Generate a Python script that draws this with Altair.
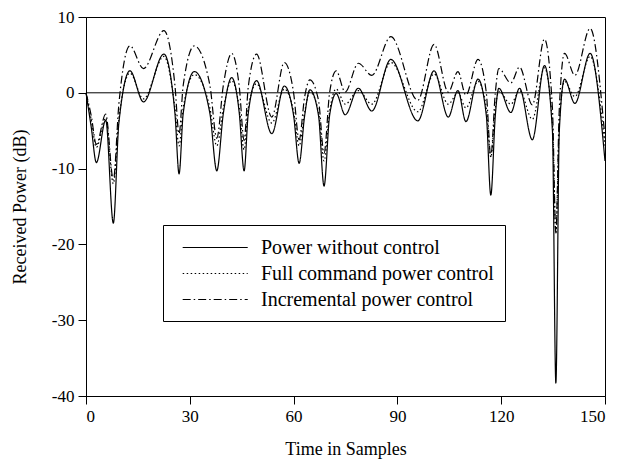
import altair as alt
import pandas as pd

# Sample positions (time in samples) of the key points
x_samples = [0, 1.5, 3, 5.7, 7.9, 9.5, 12.7, 16.6, 22.5, 25.7, 26.9, 28.1, 31.3,
             35.8, 37.8, 39.7, 42.1, 44.3, 45.7, 46.9, 49.3, 53.7, 57.3, 60.0,
             61.6, 63.2, 64.7, 67.2, 68.8, 70.4, 72.3, 74.9, 78.7, 82.6, 88.1,
             95.9, 100.6, 104.7, 107.5, 109.8, 113.3, 115.7, 117, 118.3, 119.3,
             122.8, 125.3, 129, 132.5, 134.8, 135.8, 136.8, 138.3, 141.3, 145.7, 150]

# Received power (dB)
no_control = [0, -4.5, -9.2, -3.6, -17.2, -4, 2.9, -1.2, 5.1, -2.7, -10.7, -2.7, 2.8,
              -2.7, -10.3, -2.7, 2.0, -2.7, -10.3, -2.7, 1.6, -5.4, 0.9, -3,
              -9.3, -3, 0.4, -3, -12.3, -3, -0.1, -2.9, 0.6, -2.4, 4.4,
              -3.7, 2.9, -3.2, 0.3, -3.8, 1.8, -3, -13.5, -3, 0.6,
              -2.6, 0.6, -6.2, 3.6, -5, -38.3, -5, 1.8, -1.4, 5.2, -9]

full_command = [0, -3.5, -7.2, -3.3, -12, -3.5, 2.6, -0.8, 4.8, -2, -7, -2, 2.4,
                -2, -7, -2, 1.6, -2, -7.5, -2, 1.2, -4, 0.5, -2.5,
                -7, -2.5, 0.1, -2.5, -9, -2.5, 0.5, -1.5, 0.3, -1.5, 4.0,
                -2.5, 2.5, -1.5, 0, -2, 1.5, -2, -8.5, -2, 0.2,
                -1.5, 0.3, -3.5, 3.3, -4, -18.5, -4, 1.5, -0.5, 4.8, -7]

incremental = [0, -3, -6.8, -2.8, -11.5, -1.5, 6.2, 3.2, 8.2, 1, -5.4, 1, 6.2,
               1, -6, 1, 5.2, 0.8, -6.3, 0.8, 5.1, -3.2, 4.0, 0,
               -6.2, -0.5, 1.7, -1, -8, 0, 2.9, 0.1, 3.9, 2.3, 7.4,
               -1.0, 6.4, 0.1, 2.8, -0.3, 4.4, 0, -8.4, 0, 3.2,
               1.3, 3.4, -1.6, 7.1, -2, -18.5, -2, 5.2, 2.3, 8.5, -6]

series_names = ["Power without control", "Full command power control",
                "Incremental power control"]

x_ticks = [0, 30, 60, 90, 120, 150]
y_ticks = [-40, -30, -20, -10, 0, 10]

rows = []
for name, vals in zip(series_names, [no_control, full_command, incremental]):
    for xv, yv in zip(x_samples, vals):
        rows.append({"t": xv, "p": yv, "series": name})
df = pd.DataFrame(rows)

FONT = "Liberation Serif"

lines = alt.Chart(df).mark_line(interpolate="monotone", strokeWidth=1.2, color="black").encode(
    x=alt.X("t:Q", scale=alt.Scale(domain=[0, 150], nice=False),
            axis=alt.Axis(values=x_ticks, title="Time in Samples",
                          titleY=53, titleBaseline="middle")),
    y=alt.Y("p:Q", scale=alt.Scale(domain=[-40, 10], nice=False),
            axis=alt.Axis(values=y_ticks, title="Received Power (dB)",
                          labelExpr="'' + datum.value",
                          titleX=-66, titleY=189.5, titleBaseline="middle",
                          titleAlign="center")),
    strokeDash=alt.StrokeDash(
        "series:N",
        scale=alt.Scale(domain=series_names,
                        range=[[1, 0], [1.5, 2.5], [8, 3, 1.5, 3]]),
        sort=series_names,
        legend=alt.Legend(title=None, orient="none", legendX=77, legendY=208,
                          symbolType="M-0.26,0H5.74", symbolSize=470,
                          symbolStrokeWidth=1.2, symbolStrokeColor="black",
                          labelFont=FONT, labelFontSize=20, labelColor="black",
                          labelOffset=64, rowPadding=4, padding=11,
                          strokeColor="black", fillColor="white",
                          labelLimit=400),
    ),
    detail="series:N",
)

zero = alt.Chart(pd.DataFrame({"p": [0]})).mark_rule(color="black", strokeWidth=1).encode(
    y="p:Q"
)

chart = (zero + lines).properties(
    width=519, height=379,
    autosize=alt.AutoSizeParams(type="none"),
    padding={"left": 78, "top": 9, "right": 10, "bottom": 68},
).configure_view(stroke="black", strokeWidth=1).configure_axis(
    grid=False, domainColor="black", tickColor="black", tickSize=8,
    labelFont=FONT, labelFontSize=17, labelColor="black",
    titleFont=FONT, titleFontSize=18, titleColor="black", titleFontWeight="normal",
    labelPadding=4,
)

chart.save("out.html", embed_options={"renderer": "svg", "actions": False})
